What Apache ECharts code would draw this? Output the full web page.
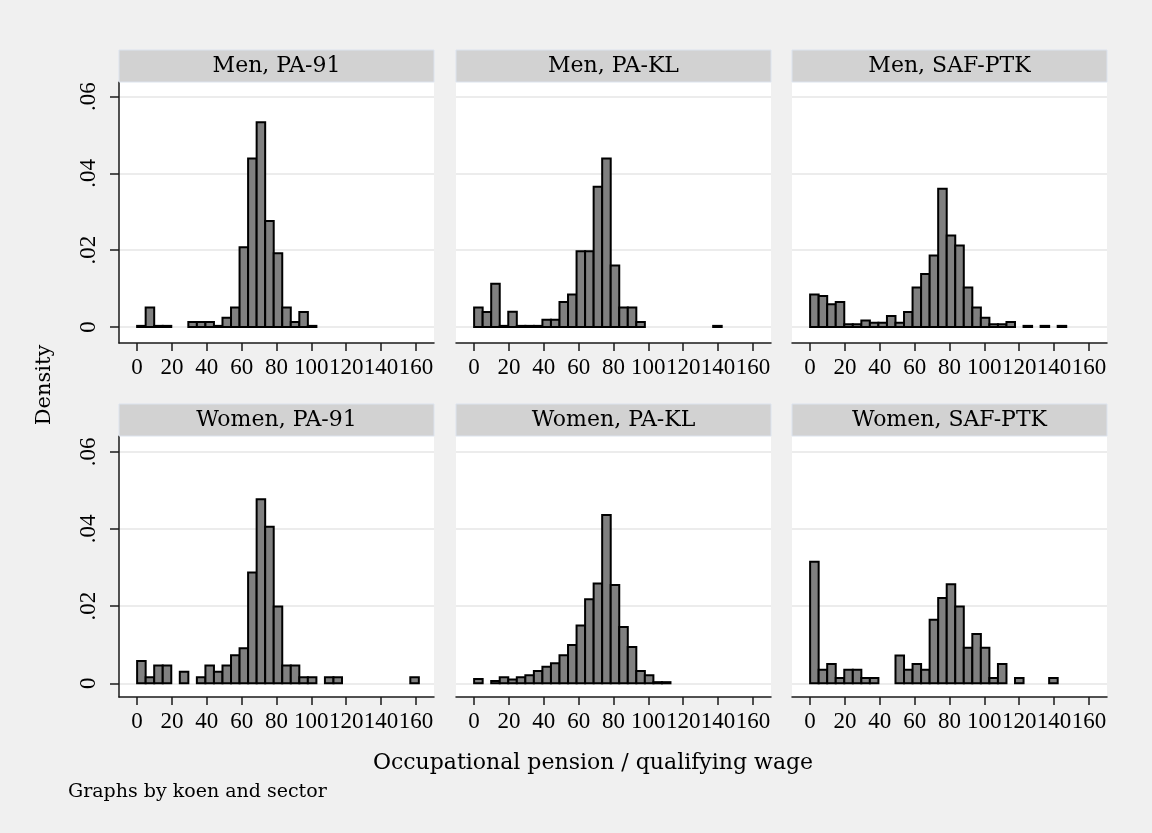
<!DOCTYPE html>
<html>
<head>
<meta charset="utf-8">
<script src="https://cdn.jsdelivr.net/npm/echarts@6/dist/echarts.min.js"></script>
<style>
html,body{margin:0;padding:0;background:#f0f0f0;}
#chart{width:1152px;height:833px;}
</style>
</head>
<body>
<div id="chart"></div>
<script>
// ---- data (shared histogram bins: start 0, width 4.9) ----
const binStart = 0;
const binWidth = 4.9;
const panelTitles = ['Men, PA-91', 'Men, PA-KL', 'Men, SAF-PTK', 'Women, PA-91', 'Women, PA-KL', 'Women, SAF-PTK'];
const xTicks = [0, 20, 40, 60, 80, 100, 120, 140, 160];
const yTicks = [0, 0.02, 0.04, 0.06];

const menPA91 = [0.0003, 0.0051, 0.0003, 0.0003, 0, 0, 0.0013, 0.0013, 0.0013, 0.0003, 0.0024, 0.0051, 0.0208, 0.0439, 0.0533, 0.0276, 0.0192, 0.0051, 0.0013, 0.0039, 0.0003, 0, 0, 0, 0, 0, 0, 0, 0, 0, 0, 0, 0];
const menPAKL = [0.0051, 0.0039, 0.0113, 0.0003, 0.0040, 0.0003, 0.0003, 0.0003, 0.0019, 0.0019, 0.0065, 0.0085, 0.0197, 0.0197, 0.0365, 0.0439, 0.0160, 0.0051, 0.0051, 0.0013, 0, 0, 0, 0, 0, 0, 0, 0, 0.0003, 0, 0, 0, 0];
const menSAF = [0.0085, 0.0081, 0.0059, 0.0065, 0.0007, 0.0007, 0.0017, 0.0011, 0.0011, 0.0029, 0.0011, 0.0039, 0.0103, 0.0138, 0.0186, 0.0360, 0.0238, 0.0212, 0.0103, 0.0051, 0.0024, 0.0007, 0.0007, 0.0013, 0, 0.0003, 0, 0.0003, 0, 0.0003, 0, 0, 0];
const womenPA91 = [0.0058, 0.0016, 0.0046, 0.0046, 0, 0.0030, 0, 0.0016, 0.0046, 0.0030, 0.0046, 0.0073, 0.0091, 0.0287, 0.0477, 0.0406, 0.0199, 0.0046, 0.0046, 0.0016, 0.0016, 0, 0.0016, 0.0016, 0, 0, 0, 0, 0, 0, 0, 0, 0.0016];
const womenPAKL = [0.0011, 0, 0.0006, 0.0016, 0.0010, 0.0016, 0.0021, 0.0032, 0.0043, 0.0052, 0.0073, 0.0099, 0.0150, 0.0218, 0.0259, 0.0436, 0.0255, 0.0146, 0.0094, 0.0032, 0.0021, 0.0003, 0.0003, 0, 0, 0, 0, 0, 0, 0, 0, 0, 0];
const womenSAF = [0.0315, 0.0035, 0.0050, 0.0014, 0.0035, 0.0035, 0.0014, 0.0014, 0, 0, 0.0072, 0.0035, 0.0050, 0.0035, 0.0165, 0.0221, 0.0257, 0.0199, 0.0092, 0.0128, 0.0092, 0.0014, 0.0050, 0, 0.0014, 0, 0, 0, 0.0014, 0, 0, 0, 0];

const panelData = [menPA91, menPAKL, menSAF, womenPA91, womenPAKL, womenSAF];

// ---- layout ----
const colLeft = [119, 456, 792];
const gridW = 315;
const rowTop = [82, 436];
const gridH = 261;
const rowYRange = [[-0.00416, 0.0638], [-0.00355, 0.0641]];
const xRange = [-10.4, 170.4];

const tickFont = 'Liberation Serif';
const textFont = 'DejaVu Serif';

const grids = [], xAxes = [], yAxes = [], series = [], graphics = [];

for (let p = 0; p < 6; p++) {
  const r = Math.floor(p / 3), c = p % 3;
  grids.push({
    left: colLeft[c], top: rowTop[r], width: gridW, height: gridH,
    show: true, backgroundColor: '#ffffff', borderWidth: 0
  });
  xAxes.push({
    type: 'value', gridIndex: p, min: xRange[0], max: xRange[1],
    axisLine: { show: true, onZero: false, lineStyle: { color: '#1a1a1a', width: 1.5 } },
    axisTick: { show: true, length: 8, customValues: xTicks, lineStyle: { color: '#1a1a1a', width: 1.5 } },
    axisLabel: { show: true, customValues: xTicks, margin: 13, color: '#000', fontFamily: tickFont, fontSize: 23 },
    splitLine: { show: false }
  });
  yAxes.push({
    type: 'value', gridIndex: p, min: rowYRange[r][0], max: rowYRange[r][1],
    axisLine: { show: c === 0, onZero: false, lineStyle: { color: '#1a1a1a', width: 1.5 } },
    axisTick: { show: c === 0, length: 9, customValues: yTicks, lineStyle: { color: '#1a1a1a', width: 1.5 } },
    axisLabel: {
      show: c === 0, customValues: yTicks, rotate: 90, margin: 19, color: '#000',
      fontFamily: tickFont, fontSize: 23,
      formatter: v => (v === 0 ? '0' : String(+v.toFixed(2)).replace(/^0/, ''))
    },
    splitLine: { show: true, lineStyle: { color: '#e6e6e6', width: 1.5 } }
  });
  const items = [];
  panelData[p].forEach((h, i) => {
    if (h > 0) items.push([binStart + i * binWidth, binStart + (i + 1) * binWidth, h]);
  });
  series.push({
    type: 'custom', xAxisIndex: p, yAxisIndex: p, clip: true,
    data: items,
    renderItem: function (params, api) {
      const a = api.coord([api.value(0), api.value(2)]);
      const b = api.coord([api.value(1), 0]);
      return {
        type: 'rect',
        shape: { x: a[0], y: a[1], width: b[0] - a[0], height: Math.max(b[1] - a[1], 1) },
        style: { fill: '#808080', stroke: '#000', lineWidth: 2 }
      };
    }
  });
  graphics.push({
    type: 'rect', z: 10,
    shape: { x: colLeft[c], y: rowTop[r] - 32, width: gridW, height: 32 },
    style: { fill: '#d2d2d2', stroke: '#dce3ee', lineWidth: 1 }
  });
  graphics.push({
    type: 'text', z: 11, x: colLeft[c] + gridW / 2, y: rowTop[r] - 16,
    style: { text: panelTitles[p], fill: '#000', font: '22px "' + textFont + '"', textAlign: 'center', textVerticalAlign: 'middle' }
  });
}

graphics.push({
  type: 'text', x: 45, y: 385, rotation: Math.PI / 2,
  style: { text: 'Density', fill: '#000', font: '21px "' + textFont + '"', textAlign: 'center', textVerticalAlign: 'middle' }
});
graphics.push({
  type: 'text', x: 593, y: 763,
  style: { text: 'Occupational pension / qualifying wage', fill: '#000', font: '22px "' + textFont + '"', textAlign: 'center', textVerticalAlign: 'middle' }
});
graphics.push({
  type: 'text', x: 68, y: 792,
  style: { text: 'Graphs by koen and sector', fill: '#000', font: '19px "' + textFont + '"', textAlign: 'left', textVerticalAlign: 'middle' }
});

const chart = echarts.init(document.getElementById('chart'), null, { renderer: 'canvas' });
chart.setOption({
  backgroundColor: '#f0f0f0',
  animation: false,
  grid: grids,
  xAxis: xAxes,
  yAxis: yAxes,
  series: series,
  graphic: graphics
});
</script>
</body>
</html>
